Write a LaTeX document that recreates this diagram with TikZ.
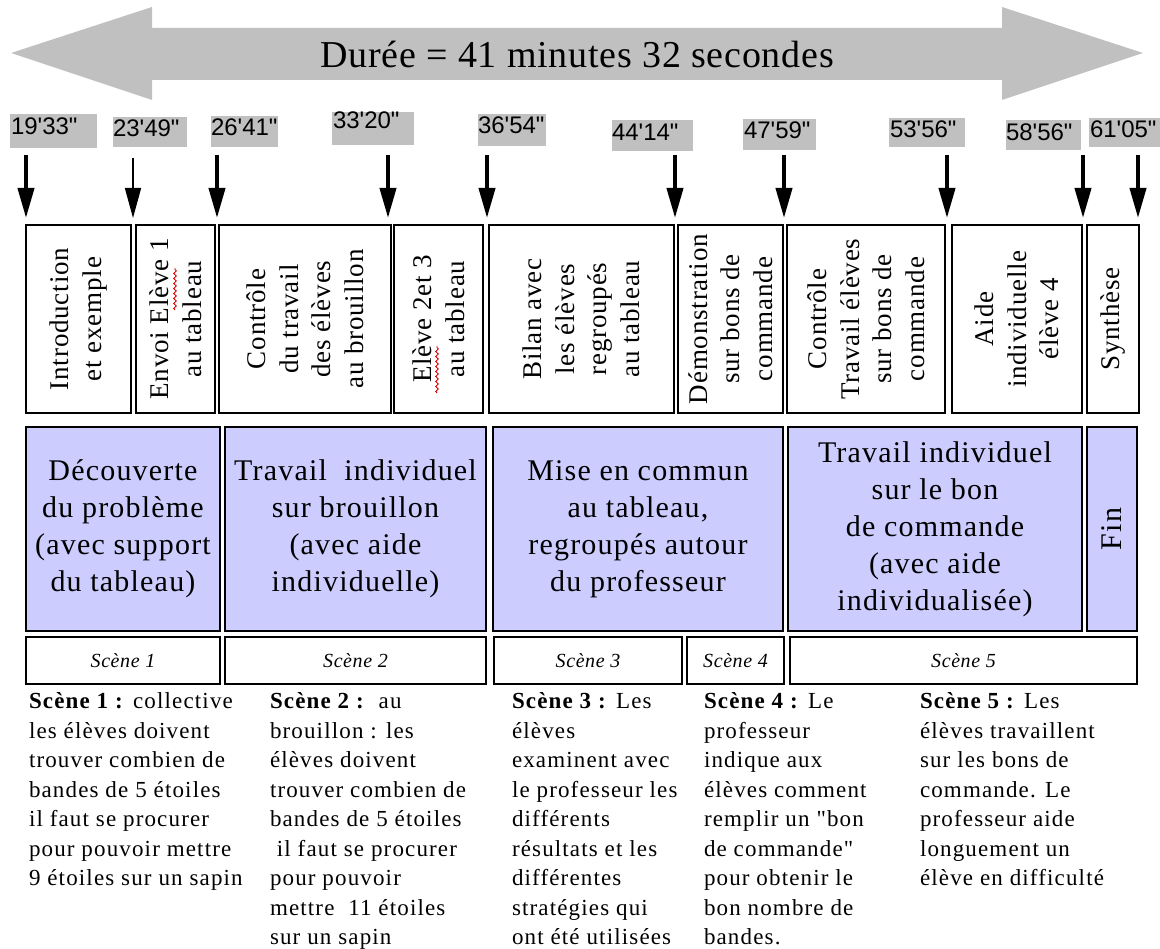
\documentclass[tikz,border=0pt]{standalone}
\usepackage{fontspec}
\setmainfont{Liberation Serif}
\newfontfamily\durfont[LetterSpace=2]{Liberation Serif}
\newfontfamily\vertfont[LetterSpace=3]{Liberation Serif}
\newfontfamily\bluefont[LetterSpace=4]{Liberation Serif}
\newfontfamily\desctext[LetterSpace=5]{Liberation Serif}
\newfontfamily\scenefont[LetterSpace=3]{Liberation Serif}
\newfontfamily\stampfont{Liberation Sans}
\usetikzlibrary{arrows.meta,decorations.pathmorphing}
\definecolor{lav}{HTML}{CCCCFF}
\definecolor{gr}{HTML}{C0C0C0}
\begin{document}
\begin{tikzpicture}[x=1pt,y=-1pt,
  every node/.style={inner sep=0pt, outer sep=0pt},
  frame/.style={draw=black, line width=1.5pt, anchor=north west},
  bluebox/.style={frame, fill=lav},
  stamp/.style={fill=gr, anchor=north west},
  stamptext/.style={anchor=north west, font=\stampfont\fontsize{24}{24}\selectfont},
  tick/.style={line width=4pt, -{Triangle[width=16pt,length=30pt]}},
  vtext/.style={rotate=90, align=center, font=\vertfont\fontsize{27}{32.5}\selectfont},
  btext/.style={align=center, font=\bluefont\fontsize{30}{37}\selectfont},
  stext/.style={font=\scenefont\itshape\fontsize{20}{20}\selectfont},
  desc/.style={anchor=north west, align=left, font=\desctext\fontsize{23}{29.5}\selectfont},
  squig/.style={draw=red!85!black, line width=0.9pt, decorate, decoration={snake, amplitude=1.3pt, segment length=5pt}}
]
\useasboundingbox (0,0) rectangle (1160,949);
% big double arrow
\fill[gr] (11,53) -- (152,7) -- (152,28) -- (1002,28) -- (1002,7) -- (1143,53)
  -- (1002,100) -- (1002,80) -- (152,80) -- (152,100) -- cycle;
\node[font=\durfont\fontsize{38}{38}\selectfont] (dur) at (577,54) {Durée = 41 minutes 32 secondes};

% time stamps
\node[stamp, minimum width=87, minimum height=34] (s1) at (10,114) {};
\node[stamptext] (s1t) at (11,118) {19\textquotesingle 33"};
\node[stamp, minimum width=74, minimum height=30] (s2) at (113,117) {};
\node[stamptext] (s2t) at (113,120) {23\textquotesingle 49"};
\node[stamp, minimum width=67, minimum height=31] (s3) at (211,116) {};
\node[stamptext] (s3t) at (211,119) {26\textquotesingle 41"};
\node[stamp, minimum width=82, minimum height=33] (s4) at (332,112) {};
\node[stamptext] (s4t) at (333,112) {33\textquotesingle 20"};
\node[stamp, minimum width=68, minimum height=32] (s5) at (478,114) {};
\node[stamptext] (s5t) at (478,117) {36\textquotesingle 54"};
\node[stamp, minimum width=81, minimum height=31] (s6) at (612,120) {};
\node[stamptext] (s6t) at (612,124) {44\textquotesingle 14"};
\node[stamp, minimum width=73, minimum height=31] (s7) at (743,119) {};
\node[stamptext] (s7t) at (744,122) {47\textquotesingle 59"};
\node[stamp, minimum width=76, minimum height=29] (s8) at (889,118) {};
\node[stamptext] (s8t) at (890,121) {53\textquotesingle 56"};
\node[stamp, minimum width=75, minimum height=30] (s9) at (1006,120) {};
\node[stamptext] (s9t) at (1006,124) {58\textquotesingle 56"};
\node[stamp, minimum width=71, minimum height=29] (s10) at (1089,118) {};
\node[stamptext] (s10t) at (1090,121) {61\textquotesingle 05"};

% arrows
\foreach \i/\x in {1/26,3/217,4/388,5/487,6/675,7/784,8/947,9/1083,10/1138}{
  \coordinate (a\i s) at (\x,155);
  \coordinate (a\i e) at (\x,218);
  \draw[tick] (a\i s) -- (a\i e);
}
\coordinate (a2s) at (133,158);
\coordinate (a2e) at (133,218);
\draw[line width=1.6pt, -{Triangle[width=16pt,length=30pt]}] (a2s) -- (a2e);

% vertical text boxes
\node[frame, minimum width=105, minimum height=188] (v1) at (26,225) {};
\node[vtext] (v1t) at (v1.center) {Introduction\\et exemple};
\node[frame, minimum width=79, minimum height=188] (v2) at (136,225) {};
\node[vtext] (v2t) at (v2.center) {Envoi Elève 1\\au tableau};
\node[frame, minimum width=172, minimum height=188] (v3) at (219,225) {};
\node[vtext] (v3t) at (v3.center) {Contrôle\\du travail\\des élèves\\au brouillon};
\node[frame, minimum width=89, minimum height=188] (v4) at (394,225) {};
\node[vtext] (v4t) at (v4.center) {Elève 2et 3\\au tableau};
\node[frame, minimum width=185, minimum height=188] (v5) at (489,225) {};
\node[vtext] (v5t) at (v5.center) {Bilan avec\\les élèves\\regroupés\\au tableau};
\node[frame, minimum width=105, minimum height=188] (v6) at (678,225) {};
\node[vtext] (v6t) at (v6.center) {Démonstration\\sur bons de\\commande};
\node[frame, minimum width=158, minimum height=188] (v7) at (787,225) {};
\node[vtext] (v7t) at (v7.center) {Contrôle\\Travail élèves\\sur bons de\\commande};
\node[frame, minimum width=130, minimum height=188] (v8) at (952,225) {};
\node[vtext] (v8t) at (v8.center) {Aide\\individuelle\\élève 4};
\node[frame, minimum width=52, minimum height=188] (v9) at (1087,225) {};
\node[vtext] (v9t) at (v9.center) {Synthèse};

% spell-check marks
\coordinate (q1a) at (175,310); \coordinate (q1b) at (175,268);
\draw[squig] (q1a) -- (q1b);
\coordinate (q2a) at (437,393); \coordinate (q2b) at (437,346);
\draw[squig] (q2a) -- (q2b);

% blue boxes
\node[bluebox, minimum width=194, minimum height=204] (p1) at (26,427) {};
\node[btext] (p1t) at (p1.center) {Découverte\\du problème\\(avec support\\du tableau)};
\node[bluebox, minimum width=261, minimum height=204] (p2) at (225,427) {};
\node[btext] (p2t) at (p2.center) {Travail\ \ individuel\\sur brouillon\\(avec aide\\individuelle)};
\node[bluebox, minimum width=290, minimum height=204] (p3) at (493,427) {};
\node[btext] (p3t) at (p3.center) {Mise en commun\\au tableau,\\regroupés autour\\du professeur};
\node[bluebox, minimum width=294, minimum height=204] (p4) at (788,427) {};
\node[btext] (p4t) at (p4.center) {Travail individuel\\sur le bon\\de commande\\(avec aide\\individualisée)};
\node[bluebox, minimum width=50, minimum height=204] (p5) at (1087,427) {};
\node[btext, rotate=90] (p5t) at (p5.center) {Fin};

% scene boxes
\node[frame, minimum width=194, minimum height=47] (c1) at (26,637) {};
\node[stext] (c1t) at (c1.center) {Scène 1};
\node[frame, minimum width=261, minimum height=47] (c2) at (225,637) {};
\node[stext] (c2t) at (c2.center) {Scène 2};
\node[frame, minimum width=188, minimum height=47] (c3) at (494,637) {};
\node[stext] (c3t) at (c3.center) {Scène 3};
\node[frame, minimum width=97, minimum height=47] (c4) at (687,637) {};
\node[stext] (c4t) at (c4.center) {Scène 4};
\node[frame, minimum width=347, minimum height=47] (c5) at (790,637) {};
\node[stext] (c5t) at (c5.center) {Scène 5};

% descriptions
\node[desc] (d1) at (29,693) {\textbf{Scène 1 :} collective\\les élèves doivent\\trouver combien de\\bandes de 5 étoiles\\il faut se procurer\\pour pouvoir mettre\\9 étoiles sur un sapin};
\node[desc] (d2) at (270,693) {\textbf{Scène 2 :}\ \ au\\brouillon : les\\élèves doivent\\trouver combien de\\bandes de 5 étoiles\\\hspace*{0.3em}il faut se procurer\\pour pouvoir\\mettre\ \ 11 étoiles\\sur un sapin};
\node[desc] (d3) at (512,693) {\textbf{Scène 3 :} Les\\élèves\\examinent avec\\le professeur les\\différents\\résultats et les\\différentes\\stratégies qui\\ont été utilisées};
\node[desc] (d4) at (704,693) {\textbf{Scène 4 :} Le\\professeur\\indique aux\\élèves comment\\remplir un "bon\\de commande"\\pour obtenir le\\bon nombre de\\bandes.};
\node[desc] (d5) at (920,693) {\textbf{Scène 5 :} Les\\élèves travaillent\\sur les bons de\\commande. Le\\professeur aide\\longuement un\\élève en difficulté};
\end{tikzpicture}
\end{document}
